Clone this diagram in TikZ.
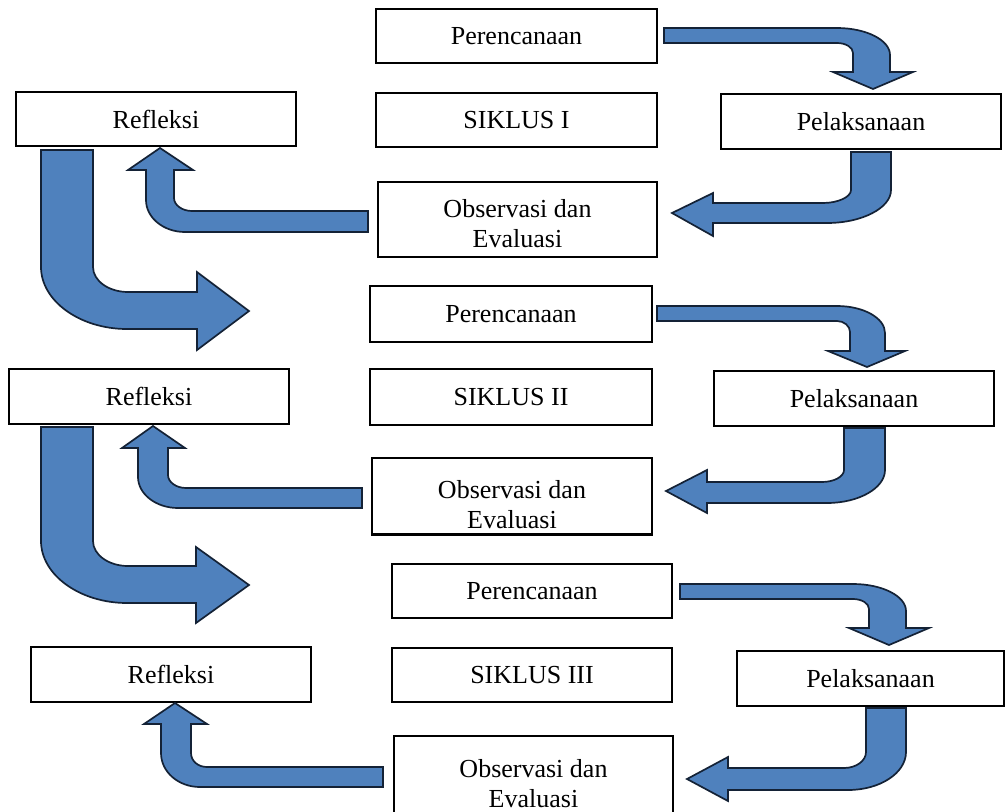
\documentclass[tikz,border=0pt]{standalone}
\usepackage{fontspec}
\setmainfont{Liberation Serif}
\definecolor{arrblue}{HTML}{4F81BD}
\definecolor{arredge}{HTML}{142236}
\tikzset{
  box/.style={draw=black, line width=1.6pt, fill=white, inner sep=0pt,
    font=\fontsize{26}{30}\selectfont, align=center},
  txt/.style={inner sep=0pt, font=\fontsize{26}{30}\selectfont, align=center},
  barrow/.style={fill=arrblue, draw=arredge, line width=1.7pt, line join=miter}
}
\begin{document}
\begin{tikzpicture}[x=1pt,y=-1pt]
\useasboundingbox (0,0) rectangle (1006,811);
\clip (0,0) rectangle (1006,811);

% ---------- SIKLUS I ----------
\node[box, minimum width=281pt, minimum height=54pt] (p1) at (516.5,36) {Perencanaan};
\node[box, minimum width=281pt, minimum height=54pt] (s1) at (516.5,120) {SIKLUS I};
\node[box, minimum width=280pt, minimum height=54pt] (r1) at (156,119) {Refleksi};
\node[box, minimum width=280pt, minimum height=55pt] (l1) at (861,121.5) {Pelaksanaan};
\node[box, minimum width=279pt, minimum height=75pt] (o1) at (517.5,219.5) {};
\node[txt] (o1t) at (517.5,224) {Observasi dan\\Evaluasi};

% ---------- SIKLUS II ----------
\node[box, minimum width=282pt, minimum height=56pt] (p2) at (511,314) {Perencanaan};
\node[box, minimum width=282pt, minimum height=56pt] (s2) at (511,397) {SIKLUS II};
\node[box, minimum width=280pt, minimum height=55pt] (r2) at (149,396.5) {Refleksi};
\node[box, minimum width=280pt, minimum height=55pt] (l2) at (854,398.5) {Pelaksanaan};
\node[box, minimum width=280pt, minimum height=76pt] (o2) at (512,496) {};
\node[txt] (o2t) at (512,505) {Observasi dan\\Evaluasi};
% redraw lower border over text, as in the reference
\draw[line width=1.6pt] (o2.south west) -- (o2.south east);

% ---------- SIKLUS III ----------
\node[box, minimum width=280pt, minimum height=54pt] (p3) at (532,591) {Perencanaan};
\node[box, minimum width=280pt, minimum height=54pt] (s3) at (532,675) {SIKLUS III};
\node[box, minimum width=280pt, minimum height=55pt] (r3) at (171,674.5) {Refleksi};
\node[box, minimum width=267pt, minimum height=55pt] (l3) at (870.5,678.5) {Pelaksanaan};
\node[box, minimum width=279pt, minimum height=94pt] (o3) at (533.5,783) {};
\node[txt] (o3t) at (533.5,784) {Observasi dan\\Evaluasi};

% ---------- arrows: Perencanaan -> Pelaksanaan ----------
\path[barrow] (664,28) -- (837,28) .. controls +(29,0) and +(0,-15) .. (890,55)
  -- (890,72) -- (913,72) -- (873,89) -- (833,72) -- (853,72) -- (853,53)
  .. controls +(0,-5.5) and +(9,0) .. (837,43) -- (664,43) -- cycle;
\path[barrow] (657,306) -- (837,306) .. controls +(26.5,0) and +(0,-15) .. (885,333)
  -- (885,351) -- (905,351) -- (867,367) -- (828,351) -- (850,351) -- (850,332)
  .. controls +(0,-6) and +(7,0) .. (837,321) -- (657,321) -- cycle;
\path[barrow] (680,584) -- (853,584) .. controls +(29,0) and +(0,-15) .. (906,611)
  -- (906,628) -- (929,628) -- (889,645) -- (849,628) -- (869,628) -- (869,609)
  .. controls +(0,-5.5) and +(9,0) .. (853,599) -- (680,599) -- cycle;

% ---------- arrows: Pelaksanaan -> Observasi ----------
\path[barrow] (851,152) -- (891,152) -- (891,190) .. controls +(0,18) and +(35,0) .. (827,223)
  -- (713,223) -- (713,236) -- (672,213) -- (713,193) -- (713,203) -- (823,203)
  .. controls +(15,0) and +(0,7) .. (851,190) -- cycle;
\path[barrow] (844,428) -- (885,428) -- (885,470) .. controls +(0,18) and +(32,0) .. (827,503)
  -- (707,503) -- (707,513) -- (666,491) -- (707,470) -- (707,482) -- (822,482)
  .. controls +(12,0) and +(0,6.6) .. (844,470) -- cycle;
\path[barrow] (866,708) -- (906,708) -- (906,752) .. controls +(0,21) and +(32,0) .. (848,790)
  -- (728,790) -- (728,801) -- (687,779) -- (728,757) -- (728,768) -- (844,768)
  .. controls +(12,0) and +(0,9) .. (866,752) -- cycle;

% ---------- arrows: Observasi -> Refleksi ----------
\path[barrow] (368,211) -- (192,211) .. controls +(-10,0) and +(0,7) .. (174,198)
  -- (174,170) -- (193,170) -- (160,148) -- (128,170) -- (146,170) -- (146,200)
  .. controls +(0,17.7) and +(-21.5,0) .. (185,232) -- (368,232) -- cycle;
\path[barrow] (362,488) -- (186,488) .. controls +(-10,0) and +(0,7) .. (168,475)
  -- (168,448) -- (185,448) -- (153,426) -- (122,448) -- (138,448) -- (138,477)
  .. controls +(0,17) and +(-22,0) .. (178,508) -- (362,508) -- cycle;
\path[barrow] (383,767) -- (207,767) .. controls +(-9,0) and +(0,8) .. (191,753)
  -- (191,724) -- (207,724) -- (175,703) -- (144,724) -- (161,724) -- (161,753)
  .. controls +(0,19) and +(-21.5,0) .. (200,787) -- (383,787) -- cycle;

% ---------- arrows: Refleksi -> next Perencanaan ----------
\path[barrow] (41,150) -- (93,150) -- (93,267) .. controls +(0,14) and +(-19,0) .. (128,292)
  -- (197,292) -- (197,272) -- (249,311) -- (197,350) -- (197,329) -- (127,329)
  .. controls +(-47,0) and +(0,34) .. (41,267) -- cycle;
\path[barrow] (41,427) -- (93,427) -- (93,541) .. controls +(0,14) and +(-19,0) .. (128,566)
  -- (196,566) -- (196,547) -- (249,585) -- (196,623) -- (196,603) -- (127,603)
  .. controls +(-47,0) and +(0,34) .. (41,541) -- cycle;
\end{tikzpicture}
\end{document}
